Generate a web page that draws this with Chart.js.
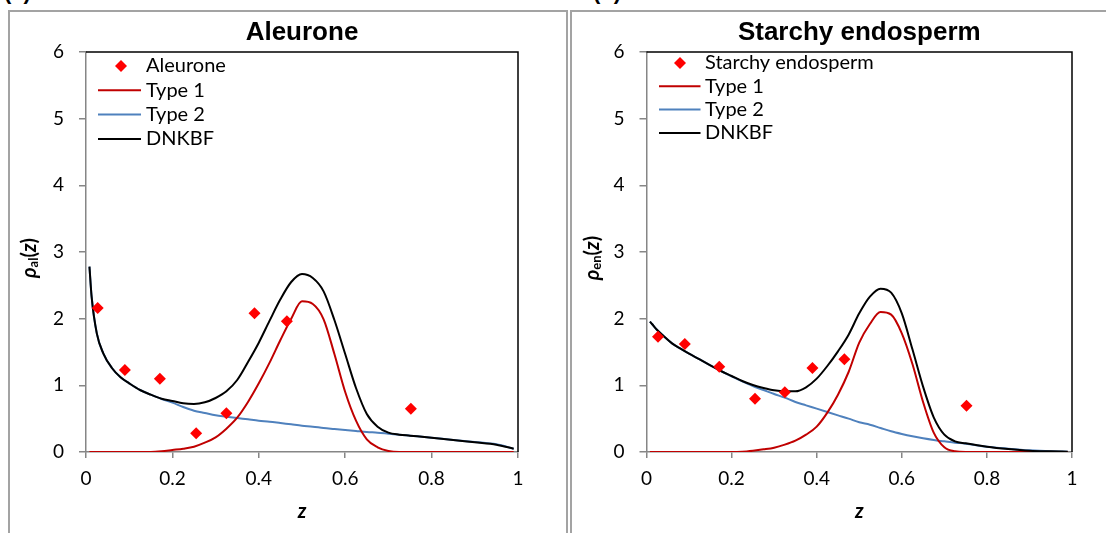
<!DOCTYPE html>
<html><head><meta charset="utf-8">
<script src="https://cdn.jsdelivr.net/npm/chart.js@4.4.0/dist/chart.umd.min.js"></script>
<style>
html,body{margin:0;padding:0;width:1106px;height:533px;overflow:hidden;background:#fff;}
.frame{position:absolute;border:2px solid #a3a3a3;box-sizing:border-box;}
.wrap{position:absolute;top:0;height:533px;}
.tag{position:absolute;font:bold 22px "Liberation Sans",Arial,sans-serif;color:#000;line-height:25px;}
canvas{display:block;}
</style></head><body>
<div class="frame" style="left:8px;top:10px;width:560px;height:600px"></div>
<div class="frame" style="left:570px;top:10px;width:600px;height:600px"></div>
<div class="tag" style="left:4px;top:-21px">(a)</div>
<div class="tag" style="left:593px;top:-21px">(b)</div>
<div class="wrap" style="left:0;width:554px"><canvas id="c1" width="554" height="533"></canvas></div>
<div class="wrap" style="left:568px;width:556px"><canvas id="c2" width="556" height="533"></canvas></div>
<script>
// ---- data ----
const zGrid = [0.008,0.013,0.025,0.04,0.06,0.08,0.10,0.125,0.15,0.175,0.2,0.225,0.25,0.275,0.3,0.325,0.35,0.375,0.4,0.425,0.45,0.475,0.5,0.525,0.55,0.575,0.6,0.625,0.65,0.675,0.7,0.725,0.75,0.8,0.85,0.9,0.95,0.99];

const expZ = [0.027,0.09,0.171,0.255,0.325,0.39,0.465,0.752];
const aleuroneObs = [2.16,1.23,1.10,0.28,0.58,2.08,1.96,0.65];
const endospermObs = [1.73,1.62,1.28,0.80,0.895,1.26,1.39,0.695];

const alType1 = [0,0,0,0,0,0,0,0,0,0.01,0.03,0.05,0.08,0.14,0.22,0.35,0.515,0.75,1.03,1.34,1.68,2.0,2.26,2.22,1.99,1.47,0.9,0.47,0.19,0.07,0.015,0,0,0,0,0,0,0];
const alType2 = [2.78,2.33,1.78,1.48,1.26,1.12,1.03,0.93,0.86,0.795,0.74,0.675,0.62,0.585,0.55,0.53,0.51,0.49,0.47,0.455,0.435,0.415,0.395,0.38,0.36,0.345,0.33,0.315,0.30,0.29,0.275,0.26,0.245,0.215,0.18,0.15,0.115,0.05];
const alDNKBF = [2.78,2.33,1.78,1.48,1.26,1.12,1.03,0.93,0.86,0.80,0.765,0.73,0.72,0.745,0.81,0.91,1.08,1.35,1.64,1.97,2.29,2.55,2.67,2.61,2.41,1.98,1.47,0.96,0.57,0.38,0.29,0.26,0.245,0.215,0.18,0.145,0.11,0.05];

const enType1 = [0,0,0,0,0,0,0,0,0,0,0,0.005,0.02,0.04,0.065,0.11,0.17,0.26,0.38,0.59,0.86,1.2,1.64,1.92,2.1,2.06,1.78,1.32,0.75,0.29,0.07,0.01,0,0,0,0,0,0];
const enType2 = [1.955,1.92,1.83,1.74,1.63,1.55,1.475,1.39,1.30,1.215,1.135,1.06,0.99,0.93,0.87,0.815,0.75,0.70,0.65,0.60,0.55,0.50,0.445,0.41,0.36,0.31,0.27,0.235,0.205,0.18,0.16,0.14,0.125,0.08,0.05,0.025,0.01,0.005];
const enDNKBF = [1.955,1.92,1.83,1.74,1.63,1.55,1.475,1.39,1.30,1.215,1.14,1.065,1.005,0.96,0.925,0.91,0.91,0.97,1.10,1.29,1.51,1.76,2.08,2.33,2.45,2.39,2.08,1.54,0.98,0.52,0.26,0.16,0.13,0.08,0.045,0.02,0.01,0.005];

const xTickLabels = ['0','0.2','0.4','0.6','0.8','1'];
const yTickLabels = ['0','1','2','3','4','5','6'];

// ---- helpers ----
const FONT = 'Lato, "Open Sans", sans-serif';
const pts = (xs, ys) => xs.map((x, i) => ({x: x, y: ys[i]}));

const plotBorder = {
  id: 'plotBorder',
  beforeDatasetsDraw(chart) {
    const {ctx, chartArea: a} = chart;
    ctx.save();
    ctx.strokeStyle = '#000';
    ctx.lineWidth = 1.5;
    ctx.beginPath();
    ctx.moveTo(a.left, a.top);
    ctx.lineTo(a.right, a.top);
    ctx.lineTo(a.right, a.bottom);
    ctx.stroke();
    ctx.restore();
  }
};

const yTitle = {
  id: 'yTitle',
  afterDraw(chart, args, o) {
    const ctx = chart.ctx;
    ctx.save();
    ctx.translate(o.x, o.y);
    ctx.rotate(-Math.PI / 2);
    const segs = [
      {t: 'ρ', f: 'italic bold 20px ' + FONT, dy: 0},
      {t: o.sub, f: 'bold 13px ' + FONT, dy: 4},
      {t: '(', f: 'bold 20px ' + FONT, dy: 0},
      {t: 'z', f: 'italic bold 20px ' + FONT, dy: 0},
      {t: ')', f: 'bold 20px ' + FONT, dy: 0}
    ];
    let total = 0;
    segs.forEach(s => { ctx.font = s.f; s.w = ctx.measureText(s.t).width; total += s.w; });
    let x = -total / 2;
    ctx.textBaseline = 'middle';
    ctx.fillStyle = '#000';
    segs.forEach(s => { ctx.font = s.f; ctx.fillText(s.t, x, s.dy); x += s.w; });
    ctx.restore();
  }
};

const insideLegend = {
  id: 'insideLegend',
  afterDraw(chart, args, o) {
    const {ctx, chartArea: a} = chart;
    ctx.save();
    ctx.font = o.size + 'px ' + FONT;
    ctx.textBaseline = 'middle';
    chart.data.datasets.forEach((ds, row) => {
      const y = a.top + o.first + row * o.gap;
      if (ds.showLine === false) {
        const cx = a.left + o.markX, r = ds.pointRadius;
        ctx.fillStyle = ds.backgroundColor;
        ctx.beginPath();
        ctx.moveTo(cx, y - r); ctx.lineTo(cx + r, y); ctx.lineTo(cx, y + r); ctx.lineTo(cx - r, y);
        ctx.closePath(); ctx.fill();
      } else {
        ctx.strokeStyle = ds.borderColor;
        ctx.lineWidth = ds.borderWidth;
        ctx.beginPath();
        ctx.moveTo(a.left + o.lineX0, y); ctx.lineTo(a.left + o.lineX1, y);
        ctx.stroke();
      }
      ctx.fillStyle = '#000';
      ctx.fillText(ds.label, a.left + o.textX, y);
    });
    ctx.restore();
  }
};

function makePanel(id, cfg) {
  const axisColor = '#868686';
  const lineBase = {borderWidth: 2, pointRadius: 0, cubicInterpolationMode: 'monotone'};
  return new Chart(document.getElementById(id), {
    type: 'line',
    data: {
      datasets: [
        {label: cfg.obsLabel, data: pts(expZ, cfg.obs), showLine: false, pointStyle: 'rectRot',
         pointRadius: 6, pointHoverRadius: 6, backgroundColor: '#ff0000', borderColor: '#ff0000', borderWidth: 0, order: 0},
        Object.assign({label: 'Type 1', data: pts(zGrid, cfg.t1), borderColor: '#c00000', order: 2}, lineBase),
        Object.assign({label: 'Type 2', data: pts(zGrid, cfg.t2), borderColor: '#4f81bd', order: 3}, lineBase),
        Object.assign({label: 'DNKBF', data: pts(zGrid, cfg.dn), borderColor: '#000000', order: 1}, lineBase)
      ]
    },
    options: {
      responsive: false,
      animation: false,
      devicePixelRatio: 1,
      layout: {padding: {left: 0, right: cfg.padRight, top: 0, bottom: 0}},
      plugins: {
        legend: {display: false},
        tooltip: {enabled: false},
        title: {display: true, text: cfg.title, color: '#000', fullSize: false,
                font: {family: '"Liberation Sans", Arial, sans-serif', size: 26, weight: 'bold'},
                padding: {top: 17.4, bottom: 3.4}},
        yTitle: {x: cfg.yTitleX, y: 258, sub: cfg.sub},
        insideLegend: cfg.legend
      },
      scales: {
        x: {
          type: 'linear', min: 0, max: 1,
          afterFit: s => { s.height = 81; },
          ticks: {stepSize: 0.2, color: '#000', padding: 9, font: {family: FONT, size: 19},
                  callback: (v, i) => xTickLabels[i]},
          grid: {drawOnChartArea: false, drawTicks: true, tickLength: 6, color: axisColor, lineWidth: 1.5},
          border: {display: true, color: axisColor, width: 1.5},
          title: {display: true, text: 'z', color: '#000',
                  font: {family: FONT, size: 20, style: 'italic', weight: 'bold'},
                  padding: {top: 0, bottom: 9}}
        },
        y: {
          type: 'linear', min: 0, max: 6,
          afterFit: s => { s.width = cfg.yWidth; },
          ticks: {stepSize: 1, color: '#000', padding: 15, font: {family: FONT, size: 19},
                  callback: (v, i) => yTickLabels[i]},
          grid: {drawOnChartArea: false, drawTicks: true, tickLength: 7, color: axisColor, lineWidth: 1.5},
          border: {display: true, color: axisColor, width: 1.5}
        }
      }
    },
    plugins: [plotBorder, yTitle, insideLegend]
  });
}

makePanel('c1', {
  title: 'Aleurone', obsLabel: 'Aleurone', obs: aleuroneObs,
  t1: alType1, t2: alType2, dn: alDNKBF,
  padRight: 36, yWidth: 86, yTitleX: 30, sub: 'al',
  legend: {size: 20, first: 14, gap: 24.3, markX: 35, lineX0: 12, lineX1: 55, textX: 60}
});
makePanel('c2', {
  title: 'Starchy endosperm', obsLabel: 'Starchy endosperm', obs: endospermObs,
  t1: enType1, t2: enType2, dn: enDNKBF,
  padRight: 52, yWidth: 78.5, yTitleX: 24.5, sub: 'en',
  legend: {size: 20, first: 11, gap: 23.3, markX: 33.5, lineX0: 12.5, lineX1: 54, textX: 58.5}
});
</script>
</body></html>
